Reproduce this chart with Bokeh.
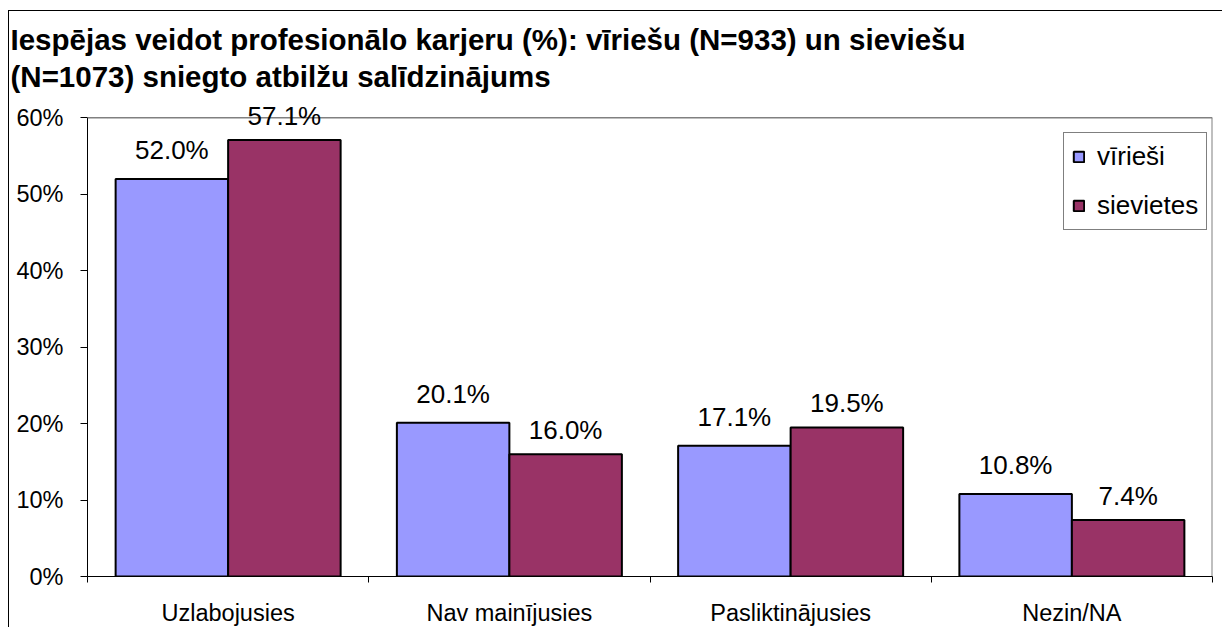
from bokeh.plotting import figure
from bokeh.models import (ColumnDataSource, Range1d, FixedTicker, PrintfTickFormatter,
                          LabelSet, Legend, LegendItem, Title, LinearAxis, Span)
from bokeh.core.properties import value
from bokeh.embed import file_html
from bokeh.resources import INLINE

categories = ["Uzlabojusies", "Nav mainījusies", "Pasliktinājusies", "Nezin/NA"]
series_names = ["vīrieši", "sievietes"]
virieshi = [52.0, 20.1, 17.1, 10.8]
sievietes = [57.1, 16.0, 19.5, 7.4]
y_ticks = [0, 10, 20, 30, 40, 50, 60]
title_lines = ["Iespējas veidot profesionālo karjeru (%): vīriešu (N=933) un sieviešu",
               "(N=1073) sniegto atbilžu salīdzinājums"]

FONT = "Liberation Sans"
COL_M = "#9999FF"
COL_F = "#993366"
Y_MAX = y_ticks[-1]
HEADROOM = 2  # room above the axis top so labels are not clipped

p = figure(width=1214, height=617, output_backend="svg", toolbar_location=None,
           x_range=Range1d(0, len(categories)), y_range=Range1d(0, Y_MAX + HEADROOM),
           min_border_left=78, min_border_right=11, min_border_top=0, min_border_bottom=50,
           x_axis_type=None, y_axis_type=None)
p.styles = {"margin-left": "8px", "margin-top": "10px",
            "border-left": "1px solid #000000", "border-top": "1px solid #000000"}
p.background_fill_color = "white"
p.border_fill_color = "white"
p.outline_line_color = None

title = Title(text="\n".join(title_lines), align="left", offset=-77, standoff=18,
              text_font=FONT, text_font_size="29.5px", text_font_style="bold",
              text_color="black", text_line_height=1.15)
p.add_layout(title, "above")

# y axis
yax = LinearAxis(ticker=FixedTicker(ticks=y_ticks), formatter=PrintfTickFormatter(format="%d%%"),
                 bounds=(0, Y_MAX))
yax.axis_line_color = "black"
yax.major_tick_line_color = "black"
yax.major_tick_in = 0
yax.major_tick_out = 7
yax.minor_tick_line_color = None
yax.major_label_standoff = 17
yax.major_label_text_font = FONT
yax.major_label_text_font_size = "23.5px"
yax.major_label_text_color = "black"
p.add_layout(yax, "left")

# x axis: labels at category centres, tick marks at category boundaries
centres = [i + 0.5 for i in range(len(categories))]
bounds = [float(i) for i in range(len(categories) + 1)]
xax = LinearAxis(ticker=FixedTicker(ticks=centres, minor_ticks=bounds))
xax.major_label_overrides = {c: lab for c, lab in zip(centres, categories)}
xax.axis_line_color = "black"
xax.major_tick_line_color = None
xax.major_tick_out = 0
xax.major_tick_in = 0
xax.minor_tick_line_color = "black"
xax.minor_tick_out = 6
xax.minor_tick_in = 0
xax.major_label_standoff = 17
xax.major_label_text_font = FONT
xax.major_label_text_font_size = "23.5px"
xax.major_label_text_color = "black"
p.add_layout(xax, "below")

p.xgrid.visible = False
p.ygrid.ticker = FixedTicker(ticks=y_ticks[1:-1])
p.ygrid.grid_line_color = "black"
p.ygrid.grid_line_width = 1

# plot-area border (grey) on top and right
p.add_layout(Span(location=Y_MAX, dimension="width", line_color="#808080", line_width=1.5))
p.segment(x0=[len(categories)], y0=[0], x1=[len(categories)], y1=[Y_MAX],
          line_color="#808080", line_width=2)

src_m = ColumnDataSource(dict(x=[i + 0.3 for i in range(len(categories))], top=virieshi,
                              lab=[f"{v:.1f}%" for v in virieshi]))
src_f = ColumnDataSource(dict(x=[i + 0.7 for i in range(len(categories))], top=sievietes,
                              lab=[f"{v:.1f}%" for v in sievietes]))

r_m = p.vbar(x="x", top="top", bottom=0, width=0.4, source=src_m,
             fill_color=COL_M, line_color="black", line_width=2)
r_f = p.vbar(x="x", top="top", bottom=0, width=0.4, source=src_f,
             fill_color=COL_F, line_color="black", line_width=2)

for src, off in ((src_m, 20), (src_f, 15)):
    p.add_layout(LabelSet(x="x", y="top", text="lab", source=src, y_offset=off,
                          text_align="center", text_baseline="alphabetic",
                          text_font=value(FONT), text_font_size=value("26px"),
                          text_color="black"))

legend = Legend(items=[LegendItem(label=series_names[0], renderers=[r_m]),
                       LegendItem(label=series_names[1], renderers=[r_f])],
                location=(976, 346))
legend.border_line_color = "black"
legend.border_line_width = 1
legend.background_fill_color = "white"
legend.background_fill_alpha = 1
legend.padding = 8
legend.margin = 0
legend.spacing = 18
legend.glyph_width = 13
legend.glyph_height = 13
legend.label_standoff = 12
legend.label_text_font = FONT
legend.label_text_font_size = "26px"
legend.label_text_color = "black"
p.add_layout(legend, "center")

open("out.html", "w").write(file_html(p, INLINE))
